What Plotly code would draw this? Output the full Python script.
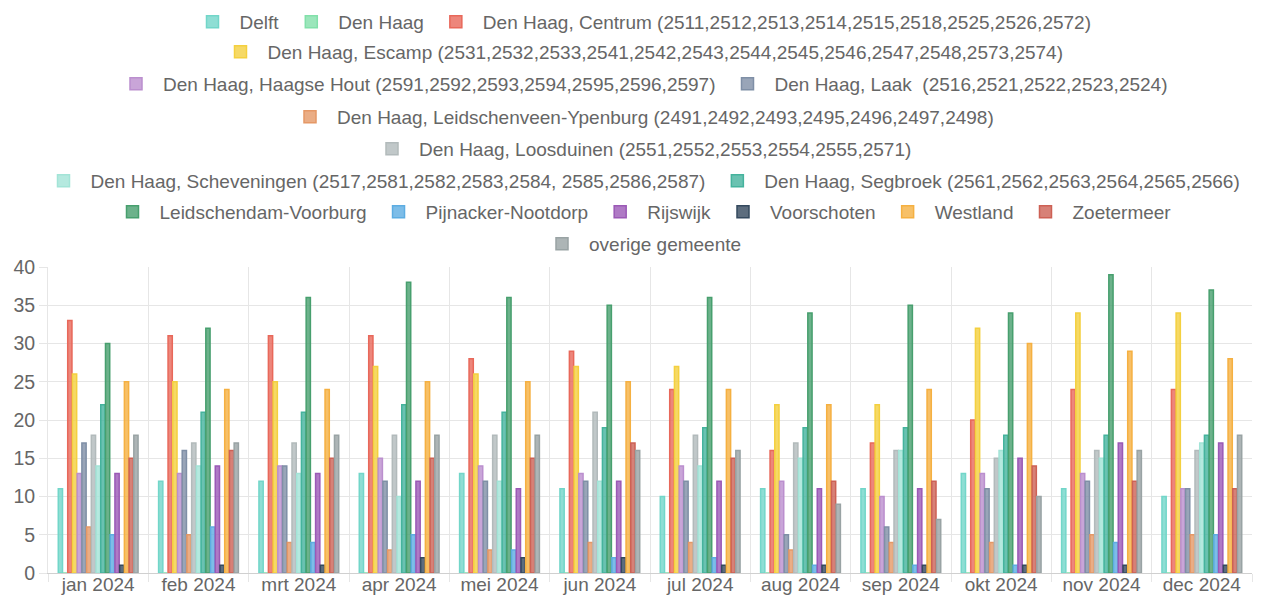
import plotly.graph_objects as go

months = ["jan 2024", "feb 2024", "mrt 2024", "apr 2024", "mei 2024", "jun 2024",
          "jul 2024", "aug 2024", "sep 2024", "okt 2024", "nov 2024", "dec 2024"]

delft = [11, 12, 12, 13, 13, 11, 10, 11, 11, 13, 11, 10]
den_haag = [0, 0, 0, 0, 0, 0, 0, 0, 0, 0, 0, 0]
centrum = [33, 31, 31, 31, 28, 29, 24, 16, 17, 20, 24, 24]
escamp = [26, 25, 25, 27, 26, 27, 27, 22, 22, 32, 34, 34]
haagse_hout = [13, 13, 14, 15, 14, 13, 14, 12, 10, 13, 13, 11]
laak = [17, 16, 14, 12, 12, 12, 12, 5, 6, 11, 12, 11]
leidschenveen = [6, 5, 4, 3, 3, 4, 4, 3, 4, 4, 5, 5]
loosduinen = [18, 17, 17, 18, 18, 21, 18, 17, 16, 15, 16, 16]
scheveningen = [14, 14, 13, 10, 12, 12, 14, 15, 16, 16, 15, 17]
segbroek = [22, 21, 21, 22, 21, 19, 19, 19, 19, 18, 18, 18]
leidschendam = [30, 32, 36, 38, 36, 35, 36, 34, 35, 34, 39, 37]
pijnacker = [5, 6, 4, 5, 3, 2, 2, 1, 1, 1, 4, 5]
rijswijk = [13, 14, 13, 12, 11, 12, 12, 11, 11, 15, 17, 17]
voorschoten = [1, 1, 1, 2, 2, 2, 1, 1, 1, 1, 1, 1]
westland = [25, 24, 24, 25, 25, 25, 24, 22, 24, 30, 29, 28]
zoetermeer = [15, 16, 15, 15, 15, 17, 15, 12, 12, 14, 12, 11]
overige = [18, 17, 18, 18, 18, 16, 16, 9, 7, 10, 16, 18]

# (name, values, colour, legend row)
SERIES = [
    ("Delft", delft, "#72d6c9", "legend"),
    ("Den Haag", den_haag, "#82e0aa", "legend"),
    ("Den Haag, Centrum (2511,2512,2513,2514,2515,2518,2525,2526,2572)", centrum, "#e8685a", "legend"),
    ("Den Haag, Escamp (2531,2532,2533,2541,2542,2543,2544,2545,2546,2547,2548,2573,2574)", escamp, "#f4d03f", "legend2"),
    ("Den Haag, Haagse Hout (2591,2592,2593,2594,2595,2596,2597)", haagse_hout, "#bb8fce", "legend3"),
    ("Den Haag, Laak  (2516,2521,2522,2523,2524)", laak, "#7f8fa6", "legend3"),
    ("Den Haag, Leidschenveen-Ypenburg (2491,2492,2493,2495,2496,2497,2498)", leidschenveen, "#e59866", "legend4"),
    ("Den Haag, Loosduinen (2551,2552,2553,2554,2555,2571)", loosduinen, "#b2babb", "legend5"),
    ("Den Haag, Scheveningen (2517,2581,2582,2583,2584, 2585,2586,2587)", scheveningen, "#a3e4d7", "legend6"),
    ("Den Haag, Segbroek (2561,2562,2563,2564,2565,2566)", segbroek, "#45b39d", "legend6"),
    ("Leidschendam-Voorburg", leidschendam, "#479f6e", "legend7"),
    ("Pijnacker-Nootdorp", pijnacker, "#5dade2", "legend7"),
    ("Rijswijk", rijswijk, "#9b59b6", "legend7"),
    ("Voorschoten", voorschoten, "#34495e", "legend7"),
    ("Westland", westland, "#f5b041", "legend7"),
    ("Zoetermeer", zoetermeer, "#cd6155", "legend7"),
    ("overige gemeente", overige, "#99a3a4", "legend8"),
]

FONT = "Liberation Sans, Arial, sans-serif"
TEXT = "#666666"
GRID = "#e6e6e6"
# the page body has an 8px margin, so the figure is a bit smaller than the window
W, H = 1261, 587
OFF = 8


def rgba(hex_color, a):
    h = hex_color.lstrip("#")
    r, g, b = int(h[0:2], 16), int(h[2:4], 16), int(h[4:6], 16)
    return f"rgba({r},{g},{b},{a})"


fig = go.Figure()
for name, vals, col, leg in SERIES:
    fig.add_trace(go.Bar(
        x=months, y=vals, name=name, legend=leg,
        marker=dict(color=rgba(col, 0.8), line=dict(color=col, width=1.5)),
    ))

# one centred legend per row, like the original (container coords, no margin push)
row_px = [22, 52, 84, 117, 149, 181, 212, 244]
legends = {}
for i, ypx in enumerate(row_px):
    key = "legend" if i == 0 else f"legend{i + 1}"
    legends[key] = dict(
        orientation="h", xref="container", yref="container",
        x=(641 - OFF) / W, xanchor="center", y=1 - (ypx - OFF) / H, yanchor="middle",
        font=dict(family=FONT, size=19, color=TEXT),
        bgcolor="rgba(0,0,0,0)", itemwidth=44,
        itemclick=False, itemdoubleclick=False,
    )

fig.update_layout(
    width=W, height=H,
    margin=dict(l=48 - OFF, r=W - (1252 - OFF), t=267 - OFF, b=H - (573 - OFF)),
    paper_bgcolor="white", plot_bgcolor="white",
    font=dict(family=FONT, size=19, color=TEXT),
    barmode="group", bargap=0.2, bargroupgap=0.1,
    showlegend=True,
    **legends,
)
fig.update_xaxes(
    type="category", tickson="boundaries", showgrid=True, gridcolor=GRID,
    ticks="outside", ticklen=8, tickcolor=GRID, automargin=False,
    ticklabelstandoff=-6,
    showline=True, linecolor="#d0d0d0", linewidth=1,
    tickfont=dict(family=FONT, size=19, color=TEXT),
)
fig.update_yaxes(
    range=[0, 40], dtick=5, showgrid=True, gridcolor=GRID, zeroline=False,
    ticks="outside", ticklen=8, tickcolor=GRID, automargin=False,
    showline=True, linecolor=GRID,
    tickfont=dict(family=FONT, size=19.5, color=TEXT),
)

fig.write_html("out.html")
